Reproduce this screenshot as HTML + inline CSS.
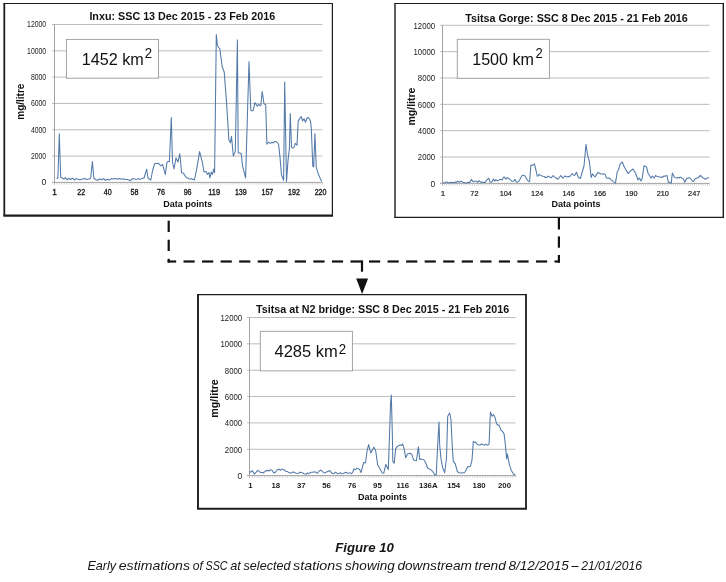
<!DOCTYPE html>
<html><head><meta charset="utf-8"><title>Figure 10</title>
<style>
html,body{margin:0;padding:0;background:#fff;}
body{width:726px;height:582px;overflow:hidden;font-family:"Liberation Sans",sans-serif;}
svg{display:block;will-change:transform;font-family:"Liberation Sans",sans-serif;}
</style></head><body>
<svg width="726" height="582" viewBox="0 0 726 582">
<rect width="726" height="582" fill="#fff"/>
<g stroke="#111" stroke-width="2.2" fill="none">
<line x1="168.7" y1="220.7" x2="168.7" y2="232"/>
<line x1="168.7" y1="239.75" x2="168.7" y2="251"/>
<line x1="168.7" y1="258.8" x2="168.7" y2="262.6"/>
<line x1="558.9" y1="218" x2="558.9" y2="229.5"/>
<line x1="558.9" y1="236.4" x2="558.9" y2="247.7"/>
<line x1="558.9" y1="255" x2="558.9" y2="262.6"/>
<line x1="167.60" y1="261.5" x2="176.15" y2="261.5"/>
<line x1="183.50" y1="261.5" x2="194.70" y2="261.5"/>
<line x1="202.05" y1="261.5" x2="213.25" y2="261.5"/>
<line x1="220.60" y1="261.5" x2="231.80" y2="261.5"/>
<line x1="239.15" y1="261.5" x2="250.35" y2="261.5"/>
<line x1="257.70" y1="261.5" x2="268.90" y2="261.5"/>
<line x1="276.25" y1="261.5" x2="287.45" y2="261.5"/>
<line x1="294.80" y1="261.5" x2="306.00" y2="261.5"/>
<line x1="313.35" y1="261.5" x2="324.55" y2="261.5"/>
<line x1="331.90" y1="261.5" x2="343.10" y2="261.5"/>
<line x1="350.45" y1="261.5" x2="361.65" y2="261.5"/>
<line x1="369.00" y1="261.5" x2="380.20" y2="261.5"/>
<line x1="387.55" y1="261.5" x2="398.75" y2="261.5"/>
<line x1="406.10" y1="261.5" x2="417.30" y2="261.5"/>
<line x1="424.65" y1="261.5" x2="435.85" y2="261.5"/>
<line x1="443.20" y1="261.5" x2="454.40" y2="261.5"/>
<line x1="461.75" y1="261.5" x2="472.95" y2="261.5"/>
<line x1="480.30" y1="261.5" x2="491.50" y2="261.5"/>
<line x1="498.85" y1="261.5" x2="510.05" y2="261.5"/>
<line x1="517.40" y1="261.5" x2="528.60" y2="261.5"/>
<line x1="535.95" y1="261.5" x2="547.15" y2="261.5"/>
<line x1="554.50" y1="261.5" x2="560.00" y2="261.5"/>
<line x1="362" y1="260.4" x2="362" y2="271.7"/>
</g>
<polygon points="356.2,278.5 368.1,278.5 362.1,294" fill="#111"/>
<rect x="4.3" y="3.5" width="328.09999999999997" height="212.2" fill="#fff"/>
<line x1="3.4" y1="3.5" x2="333.0" y2="3.5" stroke="#1c1c1c" stroke-width="1.1"/>
<line x1="332.4" y1="3.5" x2="332.4" y2="215.7" stroke="#1c1c1c" stroke-width="1.2"/>
<line x1="3.4" y1="215.7" x2="333.0" y2="215.7" stroke="#1c1c1c" stroke-width="2.2"/>
<line x1="4.3" y1="3.5" x2="4.3" y2="215.7" stroke="#1c1c1c" stroke-width="1.8"/>
<line x1="52.0" y1="182.40" x2="322.5" y2="182.40" stroke="#a2a2a2" stroke-width="1"/>
<text x="46.2" y="185.35" font-size="8.6" text-anchor="end" fill="#1a1a1a" >0</text>
<line x1="52.0" y1="156.08" x2="322.5" y2="156.08" stroke="#bcbcbc" stroke-width="1"/>
<text x="46.2" y="159.03" font-size="8.6" text-anchor="end" fill="#1a1a1a" textLength="15.28" lengthAdjust="spacingAndGlyphs">2000</text>
<line x1="52.0" y1="129.77" x2="322.5" y2="129.77" stroke="#bcbcbc" stroke-width="1"/>
<text x="46.2" y="132.72" font-size="8.6" text-anchor="end" fill="#1a1a1a" textLength="15.28" lengthAdjust="spacingAndGlyphs">4000</text>
<line x1="52.0" y1="103.45" x2="322.5" y2="103.45" stroke="#bcbcbc" stroke-width="1"/>
<text x="46.2" y="106.40" font-size="8.6" text-anchor="end" fill="#1a1a1a" textLength="15.28" lengthAdjust="spacingAndGlyphs">6000</text>
<line x1="52.0" y1="77.13" x2="322.5" y2="77.13" stroke="#bcbcbc" stroke-width="1"/>
<text x="46.2" y="80.08" font-size="8.6" text-anchor="end" fill="#1a1a1a" textLength="15.28" lengthAdjust="spacingAndGlyphs">8000</text>
<line x1="52.0" y1="50.82" x2="322.5" y2="50.82" stroke="#bcbcbc" stroke-width="1"/>
<text x="46.2" y="53.77" font-size="8.6" text-anchor="end" fill="#1a1a1a" textLength="19.10" lengthAdjust="spacingAndGlyphs">10000</text>
<line x1="52.0" y1="24.50" x2="322.5" y2="24.50" stroke="#bcbcbc" stroke-width="1"/>
<text x="46.2" y="27.45" font-size="8.6" text-anchor="end" fill="#1a1a1a" textLength="19.10" lengthAdjust="spacingAndGlyphs">12000</text>
<line x1="54.5" y1="24.5" x2="54.5" y2="184.4" stroke="#a2a2a2" stroke-width="1"/>
<path d="M54.50 182.4 v2.2M56.94 182.4 v2.2M59.37 182.4 v2.2M61.81 182.4 v2.2M64.25 182.4 v2.2M66.68 182.4 v2.2M69.12 182.4 v2.2M71.55 182.4 v2.2M73.99 182.4 v2.2M76.43 182.4 v2.2M78.86 182.4 v2.2M81.30 182.4 v2.2M83.74 182.4 v2.2M86.17 182.4 v2.2M88.61 182.4 v2.2M91.05 182.4 v2.2M93.48 182.4 v2.2M95.92 182.4 v2.2M98.35 182.4 v2.2M100.79 182.4 v2.2M103.23 182.4 v2.2M105.66 182.4 v2.2M108.10 182.4 v2.2M110.54 182.4 v2.2M112.97 182.4 v2.2M115.41 182.4 v2.2M117.85 182.4 v2.2M120.28 182.4 v2.2M122.72 182.4 v2.2M125.15 182.4 v2.2M127.59 182.4 v2.2M130.03 182.4 v2.2M132.46 182.4 v2.2M134.90 182.4 v2.2M137.34 182.4 v2.2M139.77 182.4 v2.2M142.21 182.4 v2.2M144.65 182.4 v2.2M147.08 182.4 v2.2M149.52 182.4 v2.2M151.95 182.4 v2.2M154.39 182.4 v2.2M156.83 182.4 v2.2M159.26 182.4 v2.2M161.70 182.4 v2.2M164.14 182.4 v2.2M166.57 182.4 v2.2M169.01 182.4 v2.2M171.45 182.4 v2.2M173.88 182.4 v2.2M176.32 182.4 v2.2M178.75 182.4 v2.2M181.19 182.4 v2.2M183.63 182.4 v2.2M186.06 182.4 v2.2M188.50 182.4 v2.2M190.94 182.4 v2.2M193.37 182.4 v2.2M195.81 182.4 v2.2M198.25 182.4 v2.2M200.68 182.4 v2.2M203.12 182.4 v2.2M205.55 182.4 v2.2M207.99 182.4 v2.2M210.43 182.4 v2.2M212.86 182.4 v2.2M215.30 182.4 v2.2M217.74 182.4 v2.2M220.17 182.4 v2.2M222.61 182.4 v2.2M225.05 182.4 v2.2M227.48 182.4 v2.2M229.92 182.4 v2.2M232.35 182.4 v2.2M234.79 182.4 v2.2M237.23 182.4 v2.2M239.66 182.4 v2.2M242.10 182.4 v2.2M244.54 182.4 v2.2M246.97 182.4 v2.2M249.41 182.4 v2.2M251.85 182.4 v2.2M254.28 182.4 v2.2M256.72 182.4 v2.2M259.15 182.4 v2.2M261.59 182.4 v2.2M264.03 182.4 v2.2M266.46 182.4 v2.2M268.90 182.4 v2.2M271.34 182.4 v2.2M273.77 182.4 v2.2M276.21 182.4 v2.2M278.65 182.4 v2.2M281.08 182.4 v2.2M283.52 182.4 v2.2M285.95 182.4 v2.2M288.39 182.4 v2.2M290.83 182.4 v2.2M293.26 182.4 v2.2M295.70 182.4 v2.2M298.14 182.4 v2.2M300.57 182.4 v2.2M303.01 182.4 v2.2M305.45 182.4 v2.2M307.88 182.4 v2.2M310.32 182.4 v2.2M312.75 182.4 v2.2M315.19 182.4 v2.2M317.63 182.4 v2.2M320.06 182.4 v2.2M322.50 182.4 v2.2" stroke="#b5b5b5" stroke-width="0.6" fill="none"/>
<text x="182.3" y="20" font-size="10.75" font-weight="bold" text-anchor="middle" fill="#111">Inxu: SSC 13 Dec 2015 - 23 Feb 2016</text>
<text x="54.6" y="194.8" font-size="8.3"  text-anchor="middle" fill="#1a1a1a"  stroke="#1a1a1a" stroke-width="0.35">1</text>
<text x="81.2" y="194.8" font-size="8.3"  text-anchor="middle" fill="#1a1a1a" textLength="7.90" lengthAdjust="spacingAndGlyphs" stroke="#1a1a1a" stroke-width="0.35">22</text>
<text x="107.80000000000001" y="194.8" font-size="8.3"  text-anchor="middle" fill="#1a1a1a" textLength="7.90" lengthAdjust="spacingAndGlyphs" stroke="#1a1a1a" stroke-width="0.35">40</text>
<text x="134.4" y="194.8" font-size="8.3"  text-anchor="middle" fill="#1a1a1a" textLength="7.90" lengthAdjust="spacingAndGlyphs" stroke="#1a1a1a" stroke-width="0.35">58</text>
<text x="161.0" y="194.8" font-size="8.3"  text-anchor="middle" fill="#1a1a1a" textLength="7.90" lengthAdjust="spacingAndGlyphs" stroke="#1a1a1a" stroke-width="0.35">76</text>
<text x="187.6" y="194.8" font-size="8.3"  text-anchor="middle" fill="#1a1a1a" textLength="7.90" lengthAdjust="spacingAndGlyphs" stroke="#1a1a1a" stroke-width="0.35">96</text>
<text x="214.20000000000002" y="194.8" font-size="8.3"  text-anchor="middle" fill="#1a1a1a" textLength="11.85" lengthAdjust="spacingAndGlyphs" stroke="#1a1a1a" stroke-width="0.35">119</text>
<text x="240.8" y="194.8" font-size="8.3"  text-anchor="middle" fill="#1a1a1a" textLength="11.85" lengthAdjust="spacingAndGlyphs" stroke="#1a1a1a" stroke-width="0.35">139</text>
<text x="267.40000000000003" y="194.8" font-size="8.3"  text-anchor="middle" fill="#1a1a1a" textLength="11.85" lengthAdjust="spacingAndGlyphs" stroke="#1a1a1a" stroke-width="0.35">157</text>
<text x="294.0" y="194.8" font-size="8.3"  text-anchor="middle" fill="#1a1a1a" textLength="11.85" lengthAdjust="spacingAndGlyphs" stroke="#1a1a1a" stroke-width="0.35">192</text>
<text x="320.6" y="194.8" font-size="8.3"  text-anchor="middle" fill="#1a1a1a" textLength="11.85" lengthAdjust="spacingAndGlyphs" stroke="#1a1a1a" stroke-width="0.35">220</text>
<text x="187.8" y="206.8" font-size="9.0" font-weight="bold" text-anchor="middle" fill="#111">Data points</text>
<text transform="translate(24.2,101.7) rotate(-90)" font-size="10" font-weight="bold" text-anchor="middle" fill="#111">mg/litre</text>
<polyline points="56.7,178.8 57.9,178.0 59.3,133.7 60.7,177.5 62.0,177.7 63.4,179.0 64.5,178.7 65.5,177.5 67.0,180.0 68.6,178.3 70.5,179.5 72.5,178.2 74.5,180.0 76.5,178.4 78.5,179.6 80.5,179.8 82.5,179.0 84.5,178.6 86.5,179.4 88.5,179.0 89.6,178.9 90.7,178.0 92.4,161.6 93.8,178.0 95.5,179.5 97.5,180.3 99.5,179.0 101.5,179.8 103.5,178.8 105.5,180.2 107.5,179.2 109.5,180.0 111.5,178.6 113.5,179.0 115.5,178.5 117.5,179.2 119.5,178.4 121.5,179.2 123.5,178.8 125.5,179.4 127.5,179.6 128.8,179.9 130.0,180.8 132.0,179.0 134.0,178.6 136.0,179.6 138.0,178.6 140.0,179.4 142.0,178.4 144.0,178.0 146.7,169.2 148.0,178.0 149.4,179.0 150.8,180.0 152.7,170.0 154.7,163.6 156.0,163.4 157.2,163.5 158.5,163.2 159.8,164.9 161.0,165.7 162.6,164.5 165.3,174.4 167.0,162.4 168.2,161.4 169.4,161.6 171.3,117.6 172.5,162.0 174.0,169.0 176.0,157.9 178.0,162.0 179.8,153.7 181.6,172.7 182.9,172.9 184.3,174.4 185.4,176.4 186.4,177.5 187.8,177.9 189.1,178.9 190.5,179.0 191.8,178.6 193.1,179.6 194.4,180.0 196.4,170.6 199.6,151.6 202.6,163.3 204.0,172.0 206.0,171.5 207.5,174.4 209.0,172.6 209.9,177.9 211.3,172.0 212.5,174.4 213.7,169.0 214.6,172.6 216.3,34.6 217.5,45.7 218.7,47.5 219.8,48.7 222.2,66.8 224.2,72.0 226.5,101.9 228.9,139.9 230.4,142.8 231.5,136.4 233.3,156.0 235.3,151.6 237.4,39.9 238.2,153.0 239.7,152.9 241.2,153.6 242.6,166.2 245.6,177.9 249.0,61.8 250.8,110.0 252.0,110.9 253.2,110.6 254.9,102.5 257.3,106.3 258.7,104.2 259.8,105.5 260.8,105.7 262.2,91.6 264.0,103.9 265.7,104.8 266.9,144.3 268.4,142.2 270.4,143.4 271.9,142.4 273.3,142.8 274.8,141.5 276.3,141.6 277.5,143.0 278.6,144.3 280.0,157.4 281.5,175.0 283.6,180.2 284.7,82.0 286.5,181.4 288.0,160.4 289.4,148.7 290.3,113.6 291.5,147.2 292.6,148.1 293.8,147.8 295.3,143.4 297.0,145.1 298.2,120.9 301.1,116.5 302.6,120.9 304.0,118.8 305.5,122.3 307.0,118.0 308.4,117.4 310.5,120.9 311.3,128.2 312.8,166.2 313.7,166.8 314.9,133.5 316.3,167.7 318.7,175.0 321.6,181.4" fill="none" stroke="#5279a8" stroke-width="1.05" stroke-linejoin="round"/>
<rect x="66.4" y="39.4" width="92.1" height="38.800000000000004" fill="#fff" stroke="#9a9a9a" stroke-width="0.9"/>
<text transform="translate(81.7,65.0) scale(0.982,1)" font-size="16.5" fill="#111">1452 km</text>
<text transform="translate(144.7,58.3) scale(0.86,1)" font-size="15.3" fill="#111">2</text>
<rect x="395.0" y="3.5" width="328.29999999999995" height="213.9" fill="#fff"/>
<line x1="394.3" y1="3.5" x2="724.0" y2="3.5" stroke="#1c1c1c" stroke-width="1.1"/>
<line x1="723.3" y1="3.5" x2="723.3" y2="217.4" stroke="#1c1c1c" stroke-width="1.4"/>
<line x1="394.3" y1="217.4" x2="724.0" y2="217.4" stroke="#1c1c1c" stroke-width="1.3"/>
<line x1="395.0" y1="3.5" x2="395.0" y2="217.4" stroke="#1c1c1c" stroke-width="1.4"/>
<line x1="440.0" y1="183.40" x2="709.6" y2="183.40" stroke="#a2a2a2" stroke-width="1"/>
<text x="435.2" y="186.70" font-size="8.5" text-anchor="end" fill="#1a1a1a" >0</text>
<line x1="440.0" y1="157.04" x2="709.6" y2="157.04" stroke="#bcbcbc" stroke-width="1"/>
<text x="435.2" y="160.34" font-size="8.5" text-anchor="end" fill="#1a1a1a" textLength="17.36" lengthAdjust="spacingAndGlyphs">2000</text>
<line x1="440.0" y1="130.68" x2="709.6" y2="130.68" stroke="#bcbcbc" stroke-width="1"/>
<text x="435.2" y="133.98" font-size="8.5" text-anchor="end" fill="#1a1a1a" textLength="17.36" lengthAdjust="spacingAndGlyphs">4000</text>
<line x1="440.0" y1="104.33" x2="709.6" y2="104.33" stroke="#bcbcbc" stroke-width="1"/>
<text x="435.2" y="107.62" font-size="8.5" text-anchor="end" fill="#1a1a1a" textLength="17.36" lengthAdjust="spacingAndGlyphs">6000</text>
<line x1="440.0" y1="77.97" x2="709.6" y2="77.97" stroke="#bcbcbc" stroke-width="1"/>
<text x="435.2" y="81.27" font-size="8.5" text-anchor="end" fill="#1a1a1a" textLength="17.36" lengthAdjust="spacingAndGlyphs">8000</text>
<line x1="440.0" y1="51.61" x2="709.6" y2="51.61" stroke="#bcbcbc" stroke-width="1"/>
<text x="435.2" y="54.91" font-size="8.5" text-anchor="end" fill="#1a1a1a" textLength="21.70" lengthAdjust="spacingAndGlyphs">10000</text>
<line x1="440.0" y1="25.25" x2="709.6" y2="25.25" stroke="#bcbcbc" stroke-width="1"/>
<text x="435.2" y="28.55" font-size="8.5" text-anchor="end" fill="#1a1a1a" textLength="21.70" lengthAdjust="spacingAndGlyphs">12000</text>
<line x1="442.5" y1="25.25" x2="442.5" y2="185.4" stroke="#a2a2a2" stroke-width="1"/>
<path d="M442.50 183.4 v2.2M444.64 183.4 v2.2M446.77 183.4 v2.2M448.91 183.4 v2.2M451.05 183.4 v2.2M453.18 183.4 v2.2M455.32 183.4 v2.2M457.46 183.4 v2.2M459.59 183.4 v2.2M461.73 183.4 v2.2M463.87 183.4 v2.2M466.00 183.4 v2.2M468.14 183.4 v2.2M470.28 183.4 v2.2M472.42 183.4 v2.2M474.55 183.4 v2.2M476.69 183.4 v2.2M478.83 183.4 v2.2M480.96 183.4 v2.2M483.10 183.4 v2.2M485.24 183.4 v2.2M487.37 183.4 v2.2M489.51 183.4 v2.2M491.65 183.4 v2.2M493.78 183.4 v2.2M495.92 183.4 v2.2M498.06 183.4 v2.2M500.19 183.4 v2.2M502.33 183.4 v2.2M504.47 183.4 v2.2M506.60 183.4 v2.2M508.74 183.4 v2.2M510.88 183.4 v2.2M513.01 183.4 v2.2M515.15 183.4 v2.2M517.29 183.4 v2.2M519.42 183.4 v2.2M521.56 183.4 v2.2M523.70 183.4 v2.2M525.84 183.4 v2.2M527.97 183.4 v2.2M530.11 183.4 v2.2M532.25 183.4 v2.2M534.38 183.4 v2.2M536.52 183.4 v2.2M538.66 183.4 v2.2M540.79 183.4 v2.2M542.93 183.4 v2.2M545.07 183.4 v2.2M547.20 183.4 v2.2M549.34 183.4 v2.2M551.48 183.4 v2.2M553.61 183.4 v2.2M555.75 183.4 v2.2M557.89 183.4 v2.2M560.02 183.4 v2.2M562.16 183.4 v2.2M564.30 183.4 v2.2M566.43 183.4 v2.2M568.57 183.4 v2.2M570.71 183.4 v2.2M572.84 183.4 v2.2M574.98 183.4 v2.2M577.12 183.4 v2.2M579.26 183.4 v2.2M581.39 183.4 v2.2M583.53 183.4 v2.2M585.67 183.4 v2.2M587.80 183.4 v2.2M589.94 183.4 v2.2M592.08 183.4 v2.2M594.21 183.4 v2.2M596.35 183.4 v2.2M598.49 183.4 v2.2M600.62 183.4 v2.2M602.76 183.4 v2.2M604.90 183.4 v2.2M607.03 183.4 v2.2M609.17 183.4 v2.2M611.31 183.4 v2.2M613.44 183.4 v2.2M615.58 183.4 v2.2M617.72 183.4 v2.2M619.85 183.4 v2.2M621.99 183.4 v2.2M624.13 183.4 v2.2M626.26 183.4 v2.2M628.40 183.4 v2.2M630.54 183.4 v2.2M632.68 183.4 v2.2M634.81 183.4 v2.2M636.95 183.4 v2.2M639.09 183.4 v2.2M641.22 183.4 v2.2M643.36 183.4 v2.2M645.50 183.4 v2.2M647.63 183.4 v2.2M649.77 183.4 v2.2M651.91 183.4 v2.2M654.04 183.4 v2.2M656.18 183.4 v2.2M658.32 183.4 v2.2M660.45 183.4 v2.2M662.59 183.4 v2.2M664.73 183.4 v2.2M666.86 183.4 v2.2M669.00 183.4 v2.2M671.14 183.4 v2.2M673.27 183.4 v2.2M675.41 183.4 v2.2M677.55 183.4 v2.2M679.68 183.4 v2.2M681.82 183.4 v2.2M683.96 183.4 v2.2M686.10 183.4 v2.2M688.23 183.4 v2.2M690.37 183.4 v2.2M692.51 183.4 v2.2M694.64 183.4 v2.2M696.78 183.4 v2.2M698.92 183.4 v2.2M701.05 183.4 v2.2M703.19 183.4 v2.2M705.33 183.4 v2.2M707.46 183.4 v2.2M709.60 183.4 v2.2" stroke="#b5b5b5" stroke-width="0.6" fill="none"/>
<text x="576.5" y="21.8" font-size="10.75" font-weight="bold" text-anchor="middle" fill="#111">Tsitsa Gorge: SSC 8 Dec 2015 - 21 Feb 2016</text>
<text x="443.0" y="195.6" font-size="8.1"  text-anchor="middle" fill="#1a1a1a"  stroke="#1a1a1a" stroke-width="0.2">1</text>
<text x="474.4" y="195.6" font-size="8.1"  text-anchor="middle" fill="#1a1a1a" textLength="8.20" lengthAdjust="spacingAndGlyphs" stroke="#1a1a1a" stroke-width="0.2">72</text>
<text x="505.8" y="195.6" font-size="8.1"  text-anchor="middle" fill="#1a1a1a" textLength="12.30" lengthAdjust="spacingAndGlyphs" stroke="#1a1a1a" stroke-width="0.2">104</text>
<text x="537.2" y="195.6" font-size="8.1"  text-anchor="middle" fill="#1a1a1a" textLength="12.30" lengthAdjust="spacingAndGlyphs" stroke="#1a1a1a" stroke-width="0.2">124</text>
<text x="568.6" y="195.6" font-size="8.1"  text-anchor="middle" fill="#1a1a1a" textLength="12.30" lengthAdjust="spacingAndGlyphs" stroke="#1a1a1a" stroke-width="0.2">146</text>
<text x="600.0" y="195.6" font-size="8.1"  text-anchor="middle" fill="#1a1a1a" textLength="12.30" lengthAdjust="spacingAndGlyphs" stroke="#1a1a1a" stroke-width="0.2">166</text>
<text x="631.4" y="195.6" font-size="8.1"  text-anchor="middle" fill="#1a1a1a" textLength="12.30" lengthAdjust="spacingAndGlyphs" stroke="#1a1a1a" stroke-width="0.2">190</text>
<text x="662.8" y="195.6" font-size="8.1"  text-anchor="middle" fill="#1a1a1a" textLength="12.30" lengthAdjust="spacingAndGlyphs" stroke="#1a1a1a" stroke-width="0.2">210</text>
<text x="694.2" y="195.6" font-size="8.1"  text-anchor="middle" fill="#1a1a1a" textLength="12.30" lengthAdjust="spacingAndGlyphs" stroke="#1a1a1a" stroke-width="0.2">247</text>
<text x="576" y="206.8" font-size="9.0" font-weight="bold" text-anchor="middle" fill="#111">Data points</text>
<text transform="translate(414.8,106.5) rotate(-90)" font-size="10.5" font-weight="bold" text-anchor="middle" fill="#111">mg/litre</text>
<polyline points="442.8,182.4 443.8,182.9 444.9,182.9 445.9,181.9 447.0,181.9 448.0,182.8 449.0,182.7 450.1,182.6 451.1,182.2 452.1,182.5 453.2,182.5 454.2,182.5 455.3,182.0 456.3,182.4 457.3,181.3 458.2,181.7 459.2,182.2 461.0,181.3 462.0,181.7 463.0,182.4 464.1,182.6 465.3,182.9 466.4,182.9 467.5,182.4 468.7,182.3 469.8,182.4 471.4,179.4 473.0,181.7 474.3,181.2 475.6,181.3 476.6,181.3 477.5,182.4 479.0,180.7 480.8,182.4 481.9,181.9 483.0,182.4 484.1,182.2 485.2,182.4 486.2,180.9 487.2,179.7 488.7,178.2 490.0,182.0 491.0,182.3 492.0,181.7 493.5,179.0 494.9,181.1 495.8,179.7 496.8,180.3 497.8,180.9 498.9,180.2 500.0,179.4 501.1,179.5 502.2,180.1 503.1,178.0 504.1,176.9 505.9,179.2 507.0,177.6 507.9,178.0 508.8,178.4 509.7,179.4 511.0,180.4 512.2,181.3 513.8,181.1 515.1,179.4 516.0,181.4 517.0,182.3 518.0,181.9 519.0,181.1 522.3,175.3 523.5,175.2 524.8,175.7 527.1,179.7 528.4,181.1 529.6,181.7 530.9,165.1 531.9,165.4 532.9,165.1 534.4,163.9 535.8,169.5 537.3,176.3 538.2,175.6 539.2,174.3 540.2,175.2 541.2,175.6 542.1,176.1 543.1,176.3 544.1,176.4 545.0,177.4 546.0,177.2 547.0,177.4 547.9,176.2 548.9,176.3 550.1,177.3 551.4,177.8 553.1,175.5 554.4,176.9 555.6,177.8 556.8,178.5 557.9,179.2 560.8,175.5 561.8,176.9 562.8,178.2 563.8,177.0 564.9,175.9 566.0,176.8 567.2,176.7 568.1,176.6 569.1,176.8 570.0,176.3 571.2,174.7 572.4,173.5 573.4,174.9 574.4,175.5 575.4,174.3 576.4,172.3 578.4,177.5 579.4,178.0 580.4,178.5 584.0,166.0 586.0,144.4 587.6,155.0 589.4,161.6 591.2,177.5 592.6,173.9 593.8,175.5 595.0,176.9 598.0,172.3 599.0,173.3 600.0,173.6 601.0,173.9 602.0,174.0 603.0,173.8 604.0,174.0 605.0,174.3 606.4,177.9 607.6,178.3 608.8,177.9 610.0,178.5 611.0,179.9 612.0,180.2 613.0,181.5 614.2,182.7 615.5,182.9 617.3,171.5 618.5,170.0 620.0,164.4 621.1,163.0 622.3,162.0 624.3,167.0 628.0,173.5 629.1,172.8 630.3,171.0 631.2,170.6 632.2,169.7 633.1,169.0 635.5,173.0 638.0,180.0 639.3,178.0 641.0,181.0 642.3,178.0 644.0,165.6 645.2,166.3 646.5,167.0 648.0,173.0 651.0,178.0 652.3,176.0 654.0,178.0 655.5,175.5 656.7,176.2 657.8,176.6 659.0,177.0 660.0,177.0 661.0,177.0 662.0,177.5 663.0,176.8 664.0,176.0 665.0,176.3 666.0,175.8 667.0,175.5 668.3,182.3 669.3,182.1 670.3,183.1 671.3,183.0 672.3,173.0 674.3,177.0 675.2,177.6 676.1,178.1 677.0,178.0 678.0,177.5 679.0,178.0 680.0,177.1 681.0,177.5 682.2,178.4 683.4,179.0 684.8,182.3 686.8,178.3 687.9,178.0 688.9,177.8 690.0,178.0 692.8,181.5 693.8,180.9 694.8,179.1 695.8,178.5 696.8,178.0 697.8,177.9 698.8,177.0 700.4,175.5 701.6,176.5 702.8,178.0 703.8,178.0 704.8,179.1 705.8,179.0 706.8,178.3 707.8,178.1 708.8,177.3" fill="none" stroke="#5279a8" stroke-width="1.05" stroke-linejoin="round"/>
<rect x="457.3" y="39.3" width="92.09999999999997" height="39.0" fill="#fff" stroke="#9a9a9a" stroke-width="0.9"/>
<text transform="translate(472.2,64.8) scale(0.97,1)" font-size="16.6" fill="#111">1500 km</text>
<text transform="translate(535.4,58.4) scale(0.85,1)" font-size="15.3" fill="#111">2</text>
<rect x="198.0" y="294.7" width="328.0" height="214.10000000000002" fill="#fff"/>
<line x1="197.05" y1="294.7" x2="526.9" y2="294.7" stroke="#1c1c1c" stroke-width="1.3"/>
<line x1="526.0" y1="294.7" x2="526.0" y2="508.8" stroke="#1c1c1c" stroke-width="1.8"/>
<line x1="197.05" y1="508.8" x2="526.9" y2="508.8" stroke="#1c1c1c" stroke-width="2.0"/>
<line x1="198.0" y1="294.7" x2="198.0" y2="508.8" stroke="#1c1c1c" stroke-width="1.9"/>
<line x1="247.0" y1="475.60" x2="515.5" y2="475.60" stroke="#a2a2a2" stroke-width="1"/>
<text x="242.2" y="478.90" font-size="8.5" text-anchor="end" fill="#1a1a1a" >0</text>
<line x1="247.0" y1="449.25" x2="515.5" y2="449.25" stroke="#bcbcbc" stroke-width="1"/>
<text x="242.2" y="452.55" font-size="8.5" text-anchor="end" fill="#1a1a1a" textLength="17.36" lengthAdjust="spacingAndGlyphs">2000</text>
<line x1="247.0" y1="422.90" x2="515.5" y2="422.90" stroke="#bcbcbc" stroke-width="1"/>
<text x="242.2" y="426.20" font-size="8.5" text-anchor="end" fill="#1a1a1a" textLength="17.36" lengthAdjust="spacingAndGlyphs">4000</text>
<line x1="247.0" y1="396.55" x2="515.5" y2="396.55" stroke="#bcbcbc" stroke-width="1"/>
<text x="242.2" y="399.85" font-size="8.5" text-anchor="end" fill="#1a1a1a" textLength="17.36" lengthAdjust="spacingAndGlyphs">6000</text>
<line x1="247.0" y1="370.20" x2="515.5" y2="370.20" stroke="#bcbcbc" stroke-width="1"/>
<text x="242.2" y="373.50" font-size="8.5" text-anchor="end" fill="#1a1a1a" textLength="17.36" lengthAdjust="spacingAndGlyphs">8000</text>
<line x1="247.0" y1="343.85" x2="515.5" y2="343.85" stroke="#bcbcbc" stroke-width="1"/>
<text x="242.2" y="347.15" font-size="8.5" text-anchor="end" fill="#1a1a1a" textLength="21.70" lengthAdjust="spacingAndGlyphs">10000</text>
<line x1="247.0" y1="317.50" x2="515.5" y2="317.50" stroke="#bcbcbc" stroke-width="1"/>
<text x="242.2" y="320.80" font-size="8.5" text-anchor="end" fill="#1a1a1a" textLength="21.70" lengthAdjust="spacingAndGlyphs">12000</text>
<line x1="249.5" y1="317.5" x2="249.5" y2="477.6" stroke="#a2a2a2" stroke-width="1"/>
<path d="M249.50 475.6 v2.2M252.03 475.6 v2.2M254.57 475.6 v2.2M257.10 475.6 v2.2M259.63 475.6 v2.2M262.17 475.6 v2.2M264.70 475.6 v2.2M267.23 475.6 v2.2M269.77 475.6 v2.2M272.30 475.6 v2.2M274.83 475.6 v2.2M277.37 475.6 v2.2M279.90 475.6 v2.2M282.43 475.6 v2.2M284.97 475.6 v2.2M287.50 475.6 v2.2M290.03 475.6 v2.2M292.57 475.6 v2.2M295.10 475.6 v2.2M297.63 475.6 v2.2M300.17 475.6 v2.2M302.70 475.6 v2.2M305.23 475.6 v2.2M307.77 475.6 v2.2M310.30 475.6 v2.2M312.83 475.6 v2.2M315.37 475.6 v2.2M317.90 475.6 v2.2M320.43 475.6 v2.2M322.97 475.6 v2.2M325.50 475.6 v2.2M328.03 475.6 v2.2M330.57 475.6 v2.2M333.10 475.6 v2.2M335.63 475.6 v2.2M338.17 475.6 v2.2M340.70 475.6 v2.2M343.23 475.6 v2.2M345.77 475.6 v2.2M348.30 475.6 v2.2M350.83 475.6 v2.2M353.37 475.6 v2.2M355.90 475.6 v2.2M358.43 475.6 v2.2M360.97 475.6 v2.2M363.50 475.6 v2.2M366.03 475.6 v2.2M368.57 475.6 v2.2M371.10 475.6 v2.2M373.63 475.6 v2.2M376.17 475.6 v2.2M378.70 475.6 v2.2M381.23 475.6 v2.2M383.77 475.6 v2.2M386.30 475.6 v2.2M388.83 475.6 v2.2M391.37 475.6 v2.2M393.90 475.6 v2.2M396.43 475.6 v2.2M398.97 475.6 v2.2M401.50 475.6 v2.2M404.03 475.6 v2.2M406.57 475.6 v2.2M409.10 475.6 v2.2M411.63 475.6 v2.2M414.17 475.6 v2.2M416.70 475.6 v2.2M419.23 475.6 v2.2M421.77 475.6 v2.2M424.30 475.6 v2.2M426.83 475.6 v2.2M429.37 475.6 v2.2M431.90 475.6 v2.2M434.43 475.6 v2.2M436.97 475.6 v2.2M439.50 475.6 v2.2M442.03 475.6 v2.2M444.57 475.6 v2.2M447.10 475.6 v2.2M449.63 475.6 v2.2M452.17 475.6 v2.2M454.70 475.6 v2.2M457.23 475.6 v2.2M459.77 475.6 v2.2M462.30 475.6 v2.2M464.83 475.6 v2.2M467.37 475.6 v2.2M469.90 475.6 v2.2M472.43 475.6 v2.2M474.97 475.6 v2.2M477.50 475.6 v2.2M480.03 475.6 v2.2M482.57 475.6 v2.2M485.10 475.6 v2.2M487.63 475.6 v2.2M490.17 475.6 v2.2M492.70 475.6 v2.2M495.23 475.6 v2.2M497.77 475.6 v2.2M500.30 475.6 v2.2M502.83 475.6 v2.2M505.37 475.6 v2.2M507.90 475.6 v2.2M510.43 475.6 v2.2M512.97 475.6 v2.2M515.50 475.6 v2.2" stroke="#b5b5b5" stroke-width="0.6" fill="none"/>
<text x="382.6" y="313.2" font-size="10.75" font-weight="bold" text-anchor="middle" fill="#111">Tsitsa at N2 bridge: SSC 8 Dec 2015 - 21 Feb 2016</text>
<text x="250.4" y="488.4" font-size="7.8" font-weight="bold" text-anchor="middle" fill="#1a1a1a" >1</text>
<text x="275.81" y="488.4" font-size="7.8" font-weight="bold" text-anchor="middle" fill="#1a1a1a" >18</text>
<text x="301.22" y="488.4" font-size="7.8" font-weight="bold" text-anchor="middle" fill="#1a1a1a" >37</text>
<text x="326.63" y="488.4" font-size="7.8" font-weight="bold" text-anchor="middle" fill="#1a1a1a" >56</text>
<text x="352.04" y="488.4" font-size="7.8" font-weight="bold" text-anchor="middle" fill="#1a1a1a" >76</text>
<text x="377.45" y="488.4" font-size="7.8" font-weight="bold" text-anchor="middle" fill="#1a1a1a" >95</text>
<text x="402.86" y="488.4" font-size="7.8" font-weight="bold" text-anchor="middle" fill="#1a1a1a" >116</text>
<text x="428.27" y="488.4" font-size="7.8" font-weight="bold" text-anchor="middle" fill="#1a1a1a" >136A</text>
<text x="453.68" y="488.4" font-size="7.8" font-weight="bold" text-anchor="middle" fill="#1a1a1a" >154</text>
<text x="479.09000000000003" y="488.4" font-size="7.8" font-weight="bold" text-anchor="middle" fill="#1a1a1a" >180</text>
<text x="504.5" y="488.4" font-size="7.8" font-weight="bold" text-anchor="middle" fill="#1a1a1a" >200</text>
<text x="382.6" y="499.8" font-size="9.0" font-weight="bold" text-anchor="middle" fill="#111">Data points</text>
<text transform="translate(217.8,398.5) rotate(-90)" font-size="10.7" font-weight="bold" text-anchor="middle" fill="#111">mg/litre</text>
<polyline points="249.2,471.6 250.8,472.2 252.3,470.6 254.3,474.1 256.2,472.2 257.5,470.6 258.8,470.9 260.0,472.2 261.1,472.5 262.2,472.4 263.3,472.9 264.6,471.9 265.8,470.6 266.9,471.0 268.0,470.1 269.1,471.0 270.6,469.7 272.0,470.2 273.9,472.9 275.4,472.2 276.8,470.2 278.0,469.5 279.2,469.2 280.4,470.3 281.6,469.1 283.1,469.4 284.5,469.9 285.8,471.3 287.1,471.4 288.4,472.2 289.9,472.9 291.3,473.1 292.8,472.0 294.2,472.2 295.6,473.0 297.0,473.3 298.5,473.4 300.0,472.2 301.4,472.6 302.8,472.9 304.0,473.7 305.1,474.0 306.3,474.1 307.4,472.9 308.5,473.8 309.6,472.9 311.5,472.2 312.9,472.2 314.4,471.8 315.9,472.2 317.3,473.3 319.2,471.0 320.6,470.2 322.1,471.0 323.6,472.6 325.0,472.9 327.0,471.8 328.4,471.2 329.8,470.6 331.2,472.5 332.7,473.7 334.1,473.6 335.6,472.2 337.6,473.7 339.0,473.5 340.4,472.6 341.9,473.8 343.3,473.5 344.8,472.7 346.2,472.2 347.6,473.2 349.1,473.1 350.3,472.8 351.4,473.6 352.6,472.6 354.0,468.7 355.4,469.6 356.9,468.4 358.3,468.6 359.7,469.5 361.0,472.6 363.6,462.5 365.5,462.9 367.0,451.3 368.6,444.6 370.7,452.9 372.3,450.4 373.8,447.1 375.7,451.0 377.7,464.8 380.0,469.1 382.3,472.9 383.8,473.2 385.8,464.4 388.3,469.5 389.6,432.6 390.6,402.5 391.3,395.0 392.3,432.6 392.8,461.4 394.3,463.2 395.6,448.9 396.9,446.9 398.1,445.9 400.1,445.1 401.4,445.3 402.6,443.9 404.1,448.9 405.6,457.7 407.6,453.9 408.9,453.4 410.1,453.2 411.9,454.4 413.4,459.7 414.9,460.4 416.4,460.7 418.4,446.9 419.7,459.4 421.1,459.1 422.5,459.6 423.9,459.7 425.7,462.7 427.7,468.2 428.9,468.6 430.2,469.5 431.4,470.2 432.7,471.5 434.7,474.7 436.2,475.2 437.7,445.1 439.0,422.1 439.7,445.1 441.0,458.9 442.7,467.7 444.7,472.7 446.5,457.7 447.7,416.3 449.7,413.0 451.0,420.0 452.2,445.1 453.3,461.4 455.3,463.9 457.3,471.5 459.0,472.7 460.3,472.9 461.5,472.9 462.8,472.7 464.1,472.8 465.3,471.5 467.8,466.4 469.1,466.7 470.3,466.4 472.0,460.2 473.3,441.4 474.6,442.4 475.8,441.9 477.3,444.4 478.7,444.9 480.2,445.0 481.6,443.9 482.9,444.8 484.1,445.1 485.4,444.2 486.6,445.1 487.9,445.0 489.1,443.9 490.4,412.0 492.1,416.3 493.4,414.6 494.9,417.1 496.6,423.8 497.9,425.2 499.1,425.1 500.9,430.1 502.4,431.4 504.1,433.9 505.4,445.1 506.6,458.9 507.4,453.9 509.2,463.9 511.2,470.2 513.4,474.0 515.4,475.2" fill="none" stroke="#5279a8" stroke-width="1.05" stroke-linejoin="round"/>
<rect x="260.3" y="331.3" width="92.09999999999997" height="39.599999999999966" fill="#fff" stroke="#9a9a9a" stroke-width="0.9"/>
<text transform="translate(274.5,356.7) scale(1.038,1)" font-size="15.9" fill="#111">4285 km</text>
<text transform="translate(338.8,354.3) scale(0.87,1)" font-size="15.2" fill="#111">2</text>
<g font-size="12.6" font-style="italic" fill="#161616">
<text x="335.3" y="552.4" font-weight="bold" textLength="58.6" lengthAdjust="spacingAndGlyphs">Figure 10</text>
<text x="87.4" y="570" textLength="28.7" lengthAdjust="spacingAndGlyphs">Early</text>
<text x="118.8" y="570" textLength="71.2" lengthAdjust="spacingAndGlyphs">estimations</text>
<text x="192.7" y="570" textLength="10.1" lengthAdjust="spacingAndGlyphs">of</text>
<text x="205.5" y="570" textLength="22.1" lengthAdjust="spacingAndGlyphs">SSC</text>
<text x="230.3" y="570" textLength="10.6" lengthAdjust="spacingAndGlyphs">at</text>
<text x="243.6" y="570" textLength="46.8" lengthAdjust="spacingAndGlyphs">selected</text>
<text x="293.1" y="570" textLength="49.3" lengthAdjust="spacingAndGlyphs">stations</text>
<text x="345.1" y="570" textLength="49.6" lengthAdjust="spacingAndGlyphs">showing</text>
<text x="397.4" y="570" textLength="74.5" lengthAdjust="spacingAndGlyphs">downstream</text>
<text x="474.6" y="570" textLength="31.2" lengthAdjust="spacingAndGlyphs">trend</text>
<text x="508.5" y="570" textLength="60.3" lengthAdjust="spacingAndGlyphs">8/12/2015</text>
<text x="571.5" y="570" textLength="7.0" lengthAdjust="spacingAndGlyphs">–</text>
<text x="581.2" y="570" textLength="60.8" lengthAdjust="spacingAndGlyphs">21/01/2016</text>
</g>
</svg>
</body></html>
